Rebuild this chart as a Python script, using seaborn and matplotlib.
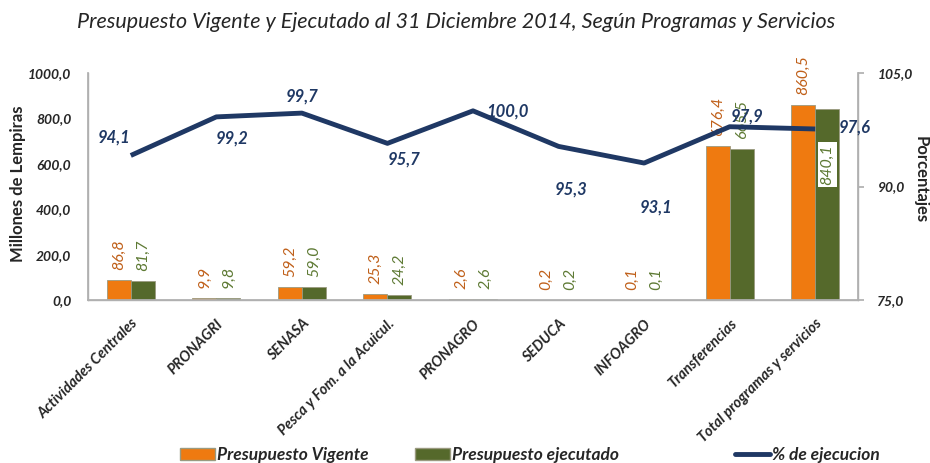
import matplotlib
matplotlib.use("Agg")
import matplotlib.pyplot as plt
import seaborn as sns
import pandas as pd
import numpy as np
from matplotlib.patches import Patch
from matplotlib.lines import Line2D

categories = ["Actividades Centrales", "PRONAGRI", "SENASA", "Pesca y Fom. a la Acuicul.",
              "PRONAGRO", "SEDUCA", "INFOAGRO", "Transferencias", "Total programas y servicios"]
vigente = [86.8, 9.9, 59.2, 25.3, 2.6, 0.2, 0.1, 676.4, 860.5]
ejecutado = [81.7, 9.8, 59.0, 24.2, 2.6, 0.2, 0.1, 665.5, 840.1]
pct_ejec = [94.1, 99.2, 99.7, 95.7, 100.0, 95.3, 93.1, 97.9, 97.6]
left_ticks = [0, 200, 400, 600, 800, 1000]
right_ticks = [75, 90, 105]

sns.set_theme(style="white")
FONT = ["Lato", "DejaVu Sans"]
plt.rcParams["font.family"] = FONT

C_OR = "#EF7A10"
C_GR = "#55692B"
C_OR_T = "#C0601A"
C_GR_T = "#5E7A34"
C_LINE = "#1F3864"

df = pd.DataFrame({
    "cat": categories * 2,
    "valor": vigente + ejecutado,
    "serie": ["Presupuesto Vigente"] * len(categories) + ["Presupuesto ejecutado"] * len(categories),
})

fig = plt.figure(figsize=(9.3, 4.63), dpi=100)
ax = fig.add_axes([88 / 930, 1 - 300 / 463, (858 - 88) / 930, (300 - 73) / 463])

sns.barplot(data=df, x="cat", y="valor", hue="serie", order=categories,
            palette=[C_OR, C_GR], saturation=1, width=0.56, gap=0, ax=ax, legend=False,
            edgecolor="#9a9a80", linewidth=0.6)

ax.set_ylim(0, 1000)
ax.set_xlim(-0.5, len(categories) - 0.5)
ax.set_yticks(left_ticks)
ax.set_yticklabels([f"{v:.1f}".replace(".", ",") for v in left_ticks],
                   fontsize=10, fontweight="bold", fontstyle="italic")
ax.set_xticks(range(len(categories)))
ax.set_xticklabels(categories, rotation=45, ha="right", rotation_mode="anchor",
                   fontsize=10.5, fontweight="bold", fontstyle="italic")
ax.tick_params(axis="x", length=0, pad=12)
ax.tick_params(axis="y", length=0, pad=12)
ax.set_xlabel("")
ax.set_ylabel("")
ax.spines["top"].set_visible(False)
for s in ["left", "bottom", "right"]:
    ax.spines[s].set_color("#b0b0b0")
    ax.spines[s].set_linewidth(1)

# bar labels
for i, (v, e) in enumerate(zip(vigente, ejecutado)):
    lab_v = f"{v:.1f}".replace(".", ",")
    lab_e = f"{e:.1f}".replace(".", ",")
    ax.annotate(lab_v, (i - 0.14, v), xytext=(0, 10), textcoords="offset pixels",
                rotation=90, ha="center", va="bottom", color=C_OR_T,
                fontsize=11.5, fontstyle="italic")
    if i == len(categories) - 1:
        ax.annotate(lab_e, (i + 0.14, e), xytext=(0, -55), textcoords="offset pixels",
                    rotation=90, ha="center", va="center", color=C_GR_T,
                    fontsize=11.5, fontstyle="italic",
                    bbox=dict(boxstyle="square,pad=0.15", fc="white", ec="none"))
    else:
        ax.annotate(lab_e, (i + 0.14, e), xytext=(0, 10), textcoords="offset pixels",
                    rotation=90, ha="center", va="bottom", color=C_GR_T,
                    fontsize=11.5, fontstyle="italic")

ax2 = ax.twinx()
sns.lineplot(x=list(range(len(categories))), y=pct_ejec, ax=ax2, color=C_LINE,
             linewidth=3.5, solid_capstyle="butt")
ax2.set_ylim(75, 105)
ax2.set_yticks(right_ticks)
ax2.set_yticklabels([f"{v:.1f}".replace(".", ",") for v in right_ticks],
                    fontsize=10, fontweight="bold", fontstyle="italic")
ax2.tick_params(axis="y", length=4, direction="out", pad=10, color="#b0b0b0")
ax2.set_ylabel("")
ax2.spines["top"].set_visible(False)
for s in ["left", "bottom", "right"]:
    ax2.spines[s].set_color("#b0b0b0")

offsets = [(-17, 18), (16, -22), (0, 17), (17, -16), (35, -1), (13, -43), (12, -44), (17, 10), (39, 1)]
for i, (p, (dx, dy)) in enumerate(zip(pct_ejec, offsets)):
    ax2.annotate(f"{p:.1f}".replace(".", ","), (i, p), xytext=(dx, dy),
                 textcoords="offset pixels", ha="center", va="center",
                 color=C_LINE, fontsize=12, fontweight="bold", fontstyle="italic")

fig.text(18 / 930, 1 - 184 / 463, "Millones de Lempiras", rotation=90,
         ha="center", va="center", fontsize=12, fontweight="bold")
fig.text(921 / 930, 1 - 180 / 463, "Porcentajes", rotation=270,
         ha="center", va="center", fontsize=12, fontweight="bold")

fig.text(456 / 930, 1 - 22 / 463,
         "Presupuesto Vigente y Ejecutado al 31 Diciembre 2014, Según Programas y Servicios",
         ha="center", va="center", fontsize=15.5, fontstyle="italic")

legend_items = [
    (Patch(facecolor=C_OR, edgecolor="#9a9a80"), "Presupuesto Vigente", 180),
    (Patch(facecolor=C_GR, edgecolor="#9a9a80"), "Presupuesto ejecutado", 415),
    (Line2D([0], [0], color=C_LINE, linewidth=3.5), "% de ejecucion", 735),
]
for h, lab, xpx in legend_items:
    leg = fig.legend([h], [lab], loc="center left", bbox_to_anchor=(xpx / 930, 1 - 455 / 463),
                     frameon=False, borderpad=0, borderaxespad=0, handlelength=2.0,
                     handletextpad=0.15,
                     prop=dict(family=FONT, size=12.5, style="italic", weight="bold"))

fig.savefig("out.png", dpi=100)
